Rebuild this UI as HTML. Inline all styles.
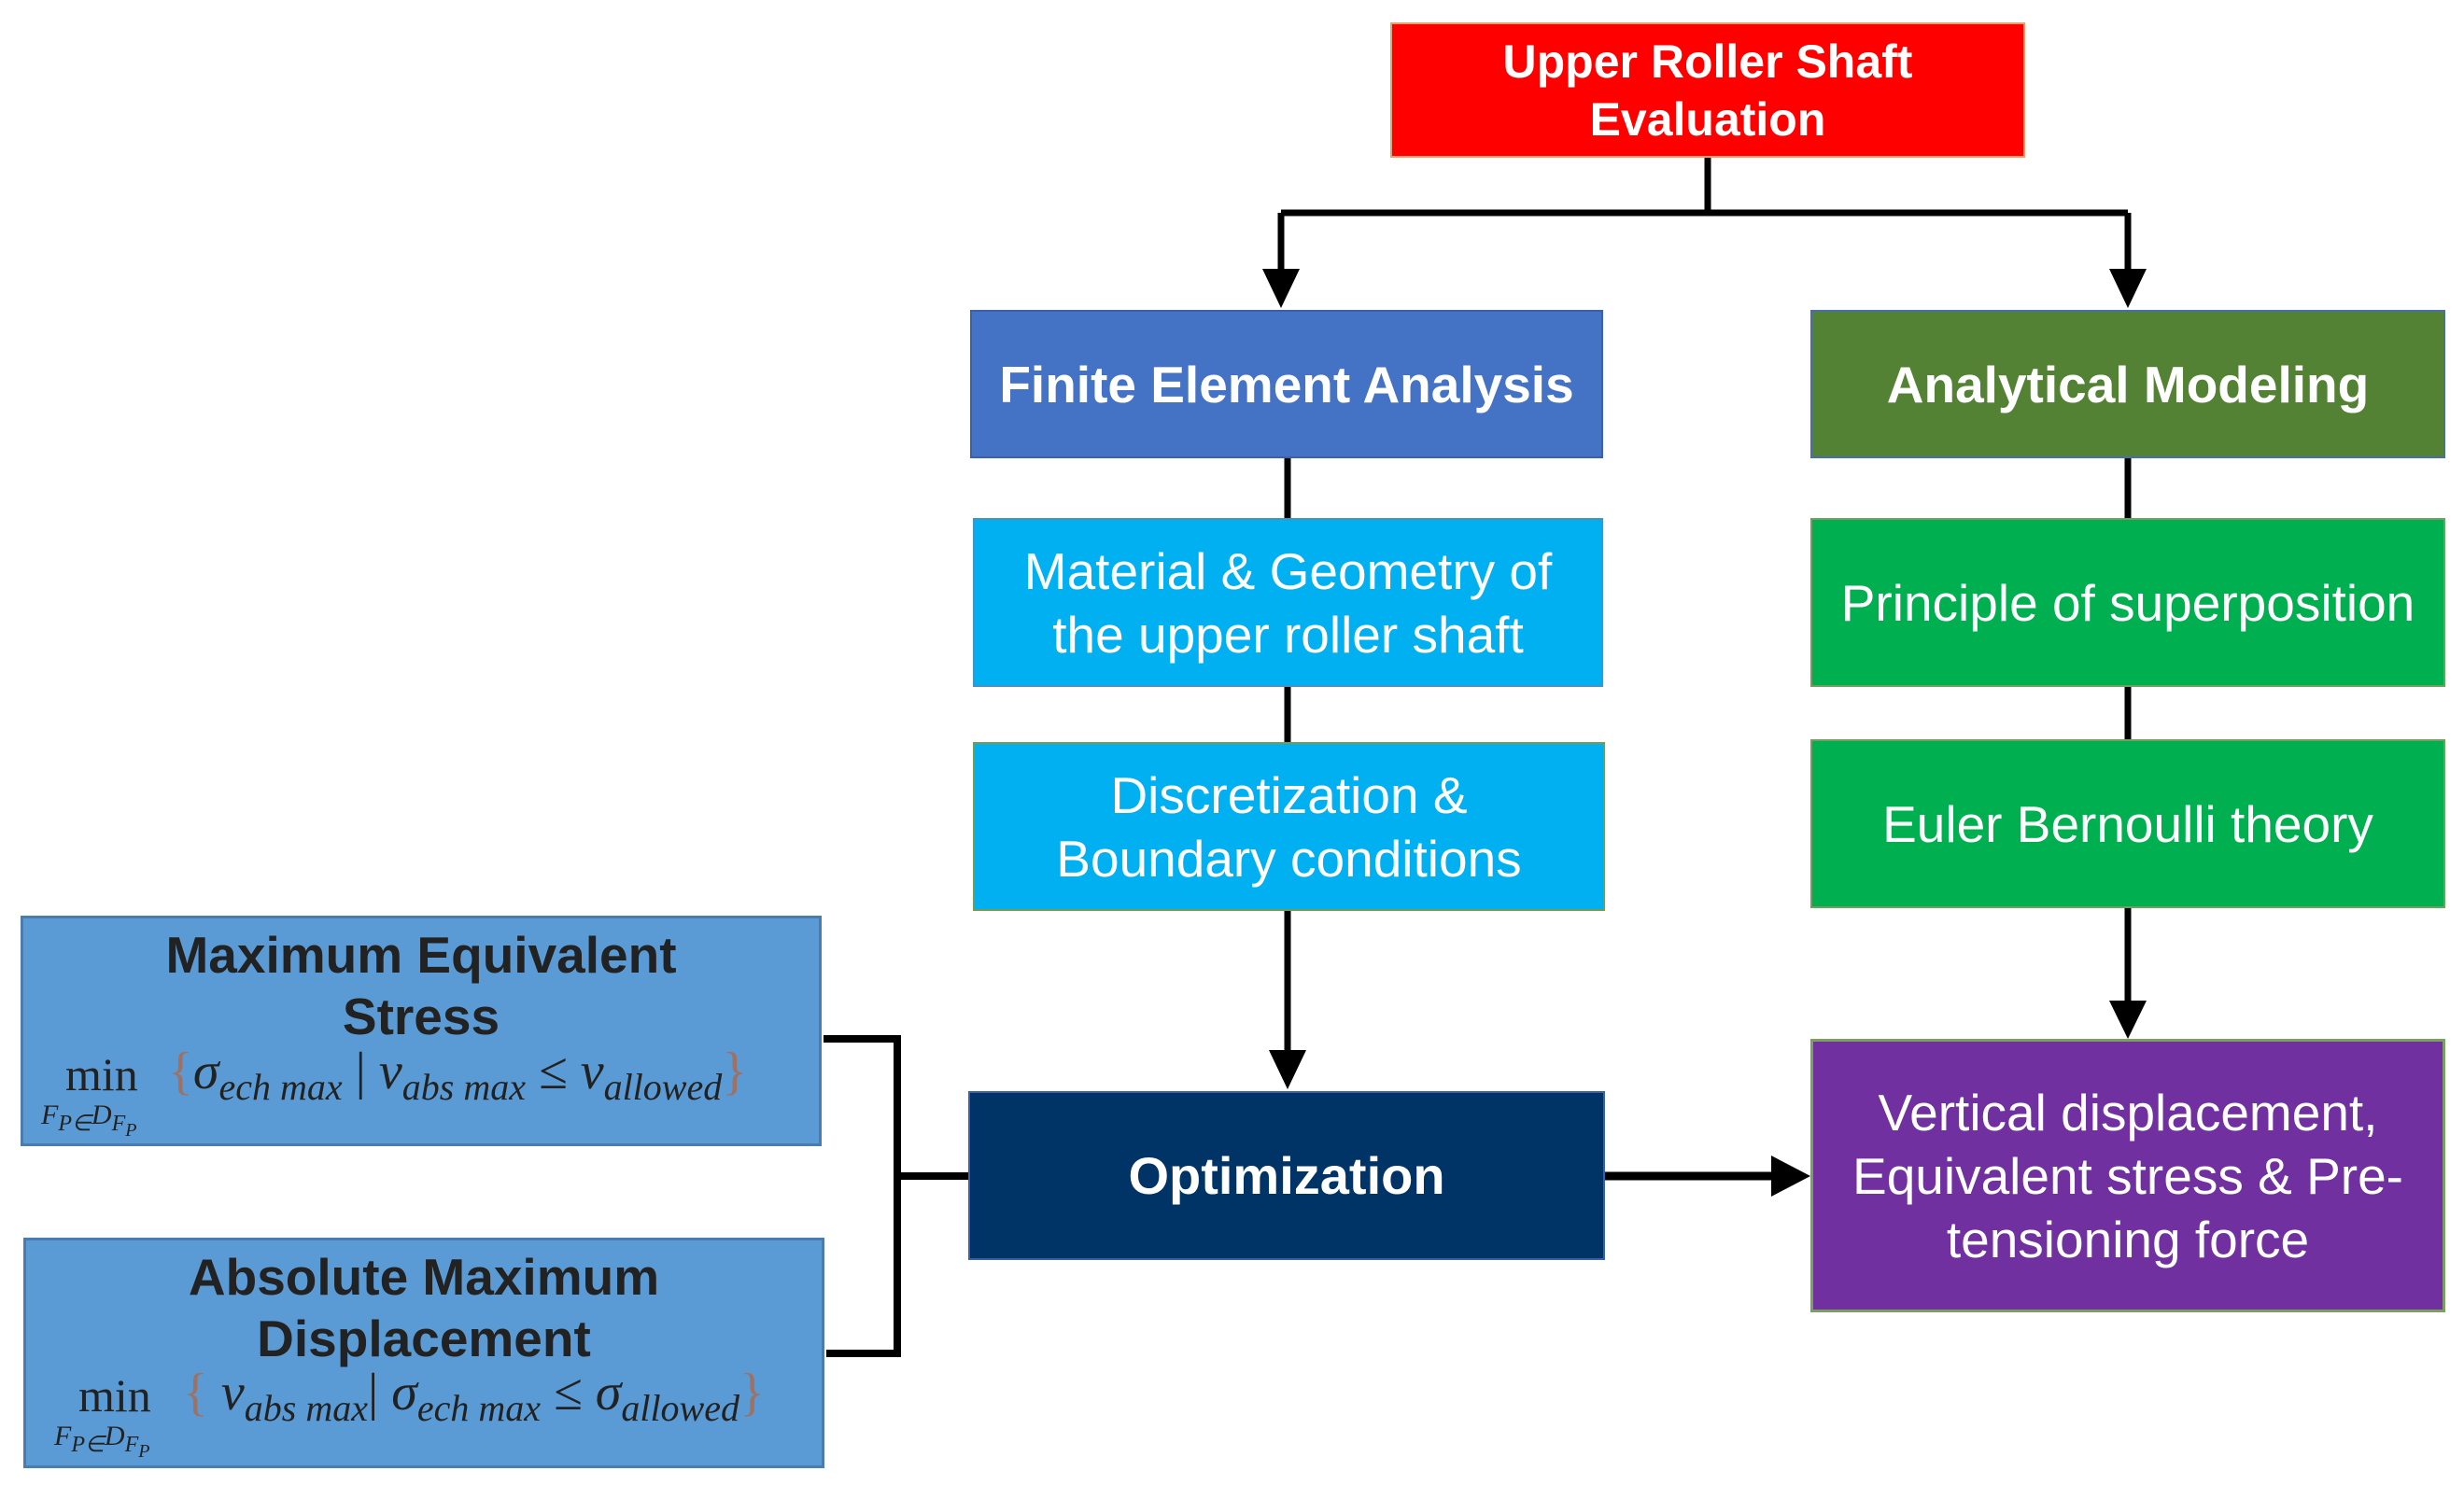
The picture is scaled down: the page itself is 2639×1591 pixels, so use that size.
<!DOCTYPE html>
<html><head><meta charset="utf-8"><style>
html,body{margin:0;padding:0;background:#fff;}
body{width:2639px;height:1591px;position:relative;overflow:hidden;font-family:"Liberation Sans",Arial,sans-serif;}
.b{position:absolute;box-sizing:border-box;display:flex;align-items:center;justify-content:center;text-align:center;color:#fff;}
.m{position:absolute;font-family:"Liberation Serif",serif;font-style:italic;color:#222;white-space:nowrap;}
.m sub{font-size:40px;}
.br{color:#a07060;font-style:normal;}
</style></head><body>
<svg width="2639" height="1591" style="position:absolute;left:0;top:0">
<g stroke="#000" stroke-width="7" fill="none">
<line x1="1829" y1="169" x2="1829" y2="228"/>
<line x1="1372" y1="228" x2="2279" y2="228"/>
<line x1="1372" y1="228" x2="1372" y2="290"/>
<line x1="2279" y1="228" x2="2279" y2="290"/>
<line x1="1379" y1="491" x2="1379" y2="795"/>
<line x1="1379" y1="976" x2="1379" y2="1125"/>
<line x1="2279" y1="491" x2="2279" y2="792"/>
<line x1="2279" y1="973" x2="2279" y2="1072"/>
<line x1="1719" y1="1260" x2="1900" y2="1260" stroke-width="9"/>
<polyline points="882,1113 961,1113 961,1450 885,1450" stroke-width="8"/>
<line x1="961" y1="1260" x2="1037" y2="1260" stroke-width="8"/>
</g>
<g fill="#000">
<polygon points="1352,288 1392,288 1372,330"/>
<polygon points="2259,288 2299,288 2279,330"/>
<polygon points="1359,1125 1399,1125 1379,1167"/>
<polygon points="2259,1072 2299,1072 2279,1113"/>
<polygon points="1897,1238 1897,1282 1939,1260"/>
</g>
</svg>
<div class="b" style="left:1489px;top:24px;width:680px;height:145px;background:#fe0000;border:2px solid #e8a070;font-weight:bold;font-size:50px;line-height:62px;">Upper Roller Shaft<br>Evaluation</div>
<div class="b" style="left:1039px;top:332px;width:678px;height:159px;background:#4472c4;border:2px solid #3b62a8;font-weight:bold;font-size:55px;">Finite Element Analysis</div>
<div class="b" style="left:1939px;top:332px;width:680px;height:159px;background:#548235;border:2px solid #4a6fa8;font-weight:bold;font-size:55px;">Analytical Modeling</div>
<div class="b" style="left:1042px;top:555px;width:675px;height:181px;background:#00b0f0;border:2px solid #4a90c0;font-size:55px;line-height:68px;">Material &amp; Geometry of<br>the upper roller shaft</div>
<div class="b" style="left:1042px;top:795px;width:677px;height:181px;background:#00b0f0;border:2px solid #7a9a50;font-size:55px;line-height:68px;">Discretization &amp;<br>Boundary conditions</div>
<div class="b" style="left:1939px;top:555px;width:680px;height:181px;background:#00b050;border:2px solid #70a060;font-size:55px;">Principle of superposition</div>
<div class="b" style="left:1939px;top:792px;width:680px;height:181px;background:#00b050;border:2px solid #70a060;font-size:55px;">Euler Bernoulli theory</div>
<div class="b" style="left:1037px;top:1169px;width:682px;height:181px;background:#003366;border:2px solid #3b62a8;font-weight:bold;font-size:56px;">Optimization</div>
<div class="b" style="left:1939px;top:1113px;width:680px;height:293px;background:#7030a0;border:3px solid #7aa060;font-size:55px;line-height:68px;">Vertical displacement,<br>Equivalent stress &amp; Pre-<br>tensioning force</div>

<div class="b" style="left:22px;top:981px;width:858px;height:247px;background:#5b9bd5;border:3px solid #4a7cb0;align-items:flex-start;color:#222;">
<div style="font-weight:bold;font-size:55px;line-height:66px;margin-top:6px;">Maximum Equivalent<br>Stress</div></div>
<div class="m" style="left:70px;top:1122px;font-size:50px;font-style:normal;">min</div>
<div class="m" style="left:44px;top:1178px;font-size:30px;">F<sub style="font-size:24px">P∈</sub>D<sub style="font-size:24px">F<sub style="font-size:20px">P</sub></sub></div>
<div class="m" style="left:180px;top:1116px;font-size:56px;"><span class="br">{</span>σ<sub>ech max</sub> <span style="font-style:normal">|</span> v<sub>abs max</sub> ≤ v<sub>allowed</sub><span class="br">}</span></div>

<div class="b" style="left:25px;top:1326px;width:858px;height:247px;background:#5b9bd5;border:3px solid #4a7cb0;align-items:flex-start;color:#222;">
<div style="font-weight:bold;font-size:55px;line-height:66px;margin-top:6px;">Absolute Maximum<br>Displacement</div></div>
<div class="m" style="left:84px;top:1466px;font-size:50px;font-style:normal;">min</div>
<div class="m" style="left:58px;top:1522px;font-size:30px;">F<sub style="font-size:24px">P∈</sub>D<sub style="font-size:24px">F<sub style="font-size:20px">P</sub></sub></div>
<div class="m" style="left:196px;top:1460px;font-size:56px;"><span class="br">{</span> v<sub>abs max</sub><span style="font-style:normal">|</span> σ<sub>ech max</sub> ≤ σ<sub>allowed</sub><span class="br">}</span></div>
</body></html>
